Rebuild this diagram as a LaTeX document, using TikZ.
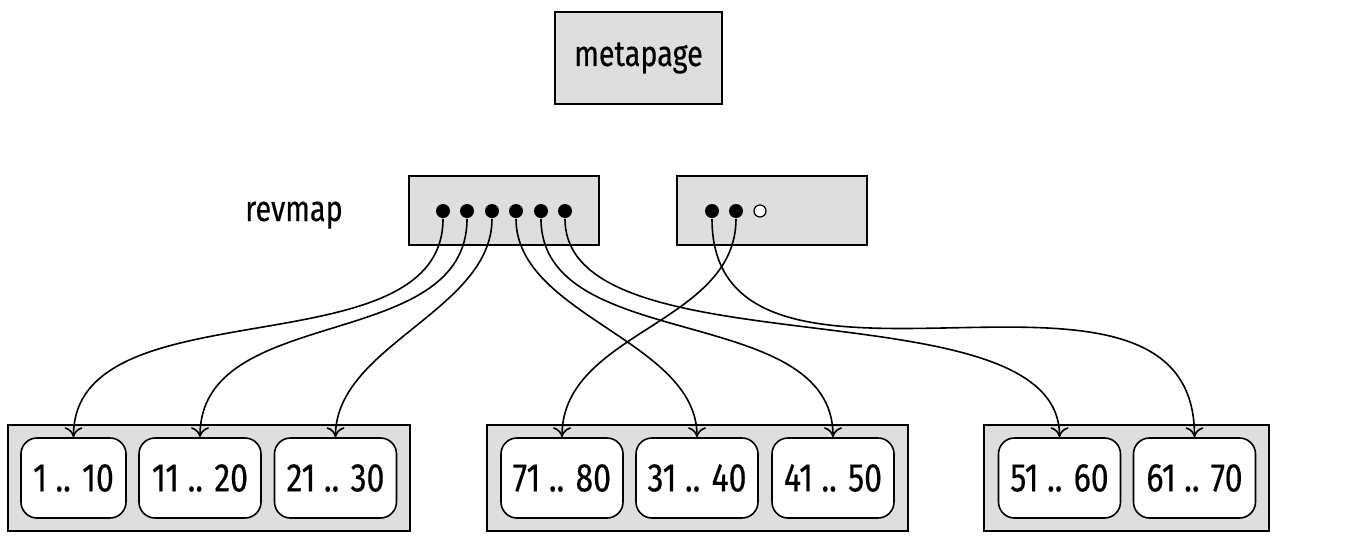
\documentclass[tikz,border=0pt]{standalone}
\usepackage{fontspec}
\setmainfont{Fira Sans}[FakeStretch=0.8, FakeBold=0.4]
\usetikzlibrary{arrows.meta}

\definecolor{pagegray}{HTML}{DEDEDE}

\tikzset{
	page/.style={draw, fill=pagegray, inner sep=0pt},
	rangebox/.style={draw, fill=white, rounded corners=8pt, minimum width=61pt, minimum height=40pt, inner sep=0pt, font=\fontsize{20}{22}\selectfont},
	dot/.style={circle, fill, inner sep=0pt, minimum size=7pt},
	freedot/.style={circle, draw, fill=white, line width=0.6pt, inner sep=0pt, minimum size=6pt}
}

\begin{document}
\begin{tikzpicture}[x=0.5pt, y=0.5pt, line width=0.8pt, >={Computer Modern Rightarrow[length=5pt, width=9pt]}, font=\fontsize{18}{20}\selectfont]
	\useasboundingbox (0, 0) rectangle (1362, -542);

	\node[page, minimum width=83.5pt, minimum height=46pt] (meta) at (638.5, -58) {metapage};
	\node[anchor=base] (revmap) at (294, -221) {revmap};
	\node[page, minimum width=95pt, minimum height=34.5pt] (rm1) at (504, -210.5) {};
	\node[page, minimum width=95pt, minimum height=34.5pt] (rm2) at (772, -210.5) {};

	% revmap items
	\node[dot] (d1) at (443, -211) {};
	\node[dot] (d2) at (467, -211) {};
	\node[dot] (d3) at (492, -211) {};
	\node[dot] (d4) at (516, -211) {};
	\node[dot] (d5) at (541, -211) {};
	\node[dot] (d6) at (565, -211) {};
	\node[dot] (e1) at (712, -211) {};
	\node[dot] (e2) at (736, -211) {};
	\node[freedot] (e3) at (760, -211) {};

	% ranges
	\node[page, minimum width=201pt, minimum height=53pt] (g1) at (209, -478) {};
	\node[page, minimum width=210.5pt, minimum height=53pt] (g2) at (697.5, -478) {};
	\node[page, minimum width=142.5pt, minimum height=53pt] (g3) at (1126.5, -478) {};

	\node[rangebox, minimum width=52.5pt] (r1) at (73.5, -478) {1 .. 10};
	\node[rangebox] (r11) at (200, -478) {11 .. 20};
	\node[rangebox] (r21) at (335.5, -478) {21 .. 30};
	\node[rangebox] (r71) at (562, -478) {71 .. 80};
	\node[rangebox] (r31) at (697, -478) {31 .. 40};
	\node[rangebox] (r41) at (833, -478) {41 .. 50};
	\node[rangebox] (r51) at (1059.5, -478) {51 .. 60};
	\node[rangebox] (r61) at (1194.5, -478) {61 .. 70};

	\draw[->] (d1) to[out=-90, in=90, looseness=0.92] (r1.north);
	\draw[->] (d2) to[out=-90, in=90, looseness=1] (r11.north);
	\draw[->] (d3) to[out=-90, in=90, looseness=0.87] (r21.north);
	\draw[->] (d4) to[out=-90, in=90, looseness=0.87] (r31.north);
	\draw[->] (d5) to[out=-90, in=90, looseness=0.95] (r41.north);
	\draw[->] (d6) to[out=-90, in=90, looseness=0.74] (r51.north);
	\draw[->] (e1) to[out=-90, in=90, looseness=1.1] (r61.north);
	\draw[->] (e2) to[out=-90, in=90, looseness=0.97] (r71.north);
\end{tikzpicture}
\end{document}
